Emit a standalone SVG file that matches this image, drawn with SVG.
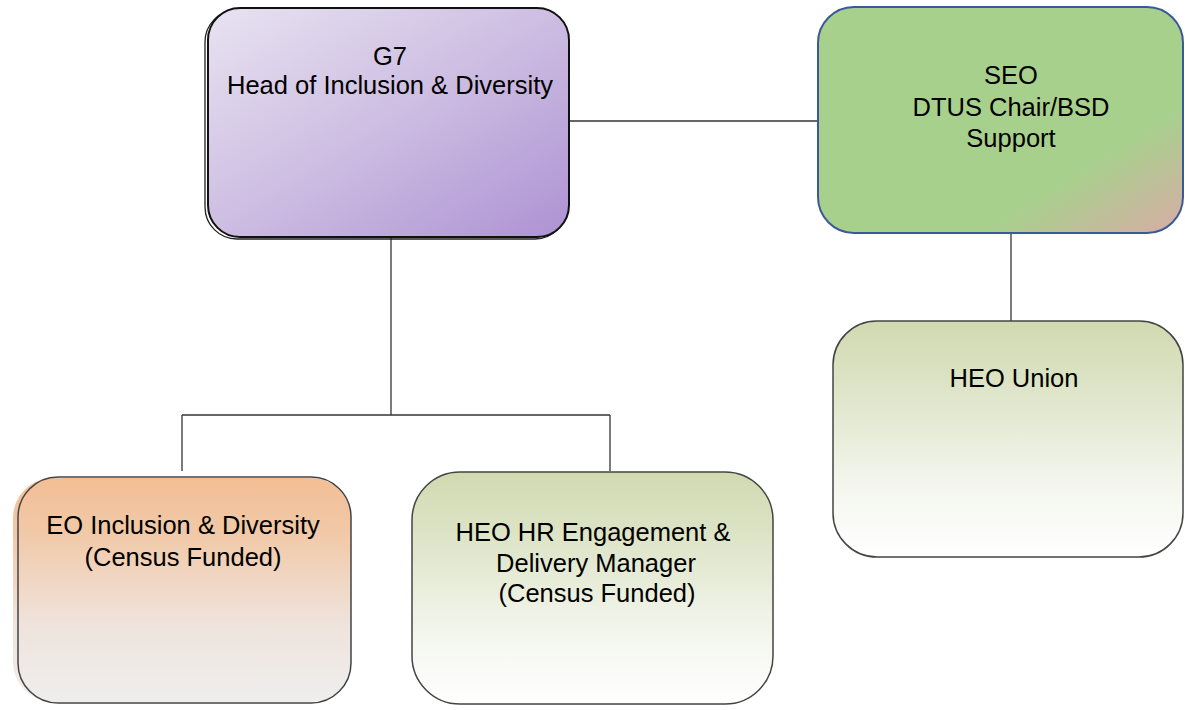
<svg xmlns="http://www.w3.org/2000/svg" width="1185" height="710" viewBox="0 0 1185 710">
<defs>
<linearGradient id="gPurple" x1="0" y1="0" x2="1" y2="1">
<stop offset="0" stop-color="#e8e3f1"/>
<stop offset="0.5" stop-color="#cdbde2"/>
<stop offset="1" stop-color="#ad92d3"/>
</linearGradient>
<linearGradient id="gGreen" x1="0" y1="0" x2="1" y2="1">
<stop offset="0" stop-color="#a8d08d"/>
<stop offset="0.72" stop-color="#a8d08d"/>
<stop offset="1" stop-color="#d8aca6"/>
</linearGradient>
<linearGradient id="gOrange" x1="0" y1="0" x2="0" y2="1">
<stop offset="0" stop-color="#f2be95"/>
<stop offset="0.25" stop-color="#f1c9a8"/>
<stop offset="0.65" stop-color="#efe3dc"/>
<stop offset="1" stop-color="#eeeeee"/>
</linearGradient>
<linearGradient id="gOlive" x1="0" y1="0" x2="0" y2="1">
<stop offset="0" stop-color="#d1d9b0"/>
<stop offset="0.3" stop-color="#dee5c9"/>
<stop offset="0.7" stop-color="#f4f6ee"/>
<stop offset="1" stop-color="#ffffff"/>
</linearGradient>
<style>
text{font-family:"Liberation Sans",Arial,sans-serif;font-size:25.5px;fill:#000;text-anchor:middle}
.conn{stroke:#333;stroke-width:1.3;fill:none}
.thin{stroke:#444;stroke-width:1.5}
</style>
</defs>
<g id="connectors">
<line class="conn" x1="569" y1="121" x2="818" y2="121"/>
<line class="conn" x1="391" y1="237" x2="391" y2="415"/>
<line class="conn" x1="182" y1="415" x2="610" y2="415"/>
<line class="conn" x1="182" y1="415" x2="182" y2="471"/>
<line class="conn" x1="610" y1="415" x2="610" y2="471"/>
<line class="conn" x1="1011" y1="233" x2="1011" y2="321"/>
</g>
<g id="g7">
<rect x="205" y="10" width="362" height="229" rx="32" fill="none" stroke="#222" stroke-width="1.3"/>
<rect x="208" y="8" width="361" height="229" rx="32" fill="url(#gPurple)" stroke="#111" stroke-width="2"/>
<text x="390" y="65">G7</text>
<text x="390" y="94">Head of Inclusion &amp; Diversity</text>
</g>
<g id="seo">
<rect x="818" y="7" width="365" height="226" rx="36" fill="url(#gGreen)" stroke="#3b5998" stroke-width="2"/>
<text x="1011" y="84">SEO</text>
<text x="1011" y="116">DTUS Chair/BSD</text>
<text x="1011" y="147">Support</text>
</g>
<g id="heo-union">
<rect x="833" y="321" width="350" height="236" rx="44" fill="url(#gOlive)" class="thin"/>
<text x="1014" y="387">HEO Union</text>
</g>
<g id="eo">
<rect x="13" y="478" width="338" height="224" rx="40" fill="url(#gOrange)" stroke="none"/>
<rect x="18" y="477" width="333" height="226" rx="40" fill="none" class="thin"/>
<text x="183" y="534">EO Inclusion &amp; Diversity</text>
<text x="183" y="566">(Census Funded)</text>
</g>
<g id="heo-hr">
<rect x="412" y="472" width="361" height="232" rx="48" fill="url(#gOlive)" class="thin"/>
<text x="593" y="541">HEO HR Engagement &amp;</text>
<text x="596" y="572">Delivery Manager</text>
<text x="597" y="602">(Census Funded)</text>
</g>
</svg>
